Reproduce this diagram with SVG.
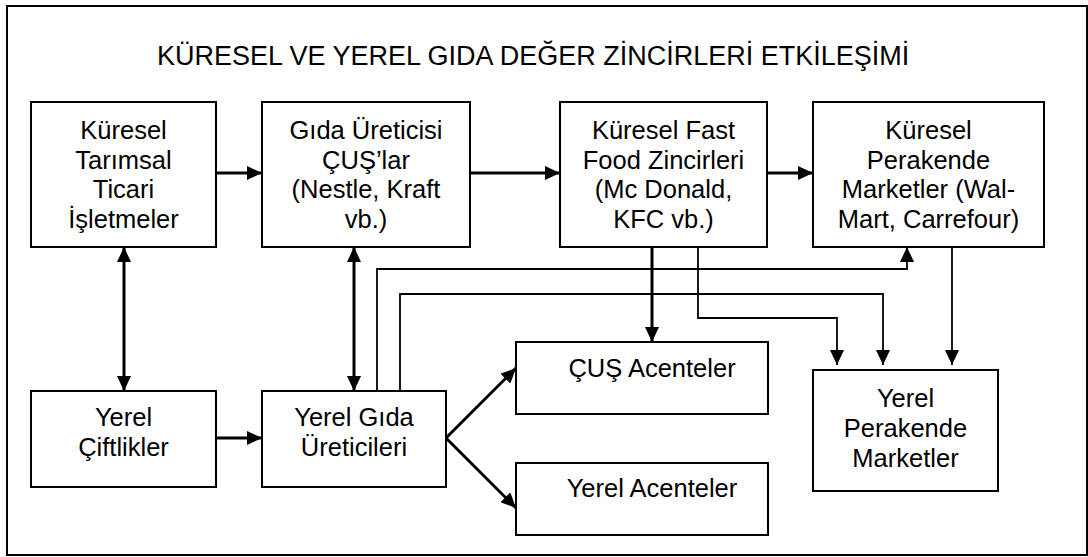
<svg xmlns="http://www.w3.org/2000/svg" width="1088" height="557" viewBox="0 0 1088 557">
<style>
  .box { fill: #ffffff; stroke: #000000; stroke-width: 2; }
  .t { font-family: "Liberation Sans", Arial, sans-serif; font-size: 25.5px; fill: #000000; text-anchor: middle; }
  .title { font-family: "Liberation Sans", Arial, sans-serif; font-size: 27px; fill: #000000; }
  .thick { fill: none; stroke: #000000; stroke-width: 3; }
  .thin { fill: none; stroke: #000000; stroke-width: 1.8; }
</style>
<defs>
  <marker id="ah" markerUnits="userSpaceOnUse" markerWidth="15" markerHeight="14" refX="15" refY="7" orient="auto-start-reverse" viewBox="0 0 15 14">
    <path d="M0,0 L15,7 L0,14 Z" fill="#000000"/>
  </marker>
</defs>
<rect x="0" y="0" width="1088" height="557" fill="#ffffff"/>
<rect x="7" y="6" width="1080" height="549" fill="none" stroke="#000000" stroke-width="2"/>
<text class="title" x="157" y="65">KÜRESEL VE YEREL GIDA DEĞER ZİNCİRLERİ ETKİLEŞİMİ</text>

<g id="connectors">
  <line class="thick" x1="216" y1="173" x2="262" y2="173" marker-end="url(#ah)"/>
  <line class="thick" x1="470" y1="173" x2="560" y2="173" marker-end="url(#ah)"/>
  <line class="thick" x1="767" y1="173" x2="813" y2="173" marker-end="url(#ah)"/>
  <line class="thick" x1="124" y1="247" x2="124" y2="391" marker-start="url(#ah)" marker-end="url(#ah)"/>
  <line class="thick" x1="354" y1="247" x2="354" y2="391" marker-start="url(#ah)" marker-end="url(#ah)"/>
  <line class="thick" x1="216" y1="438" x2="262" y2="438" marker-end="url(#ah)"/>
  <line class="thick" x1="446" y1="438" x2="516" y2="368" marker-end="url(#ah)"/>
  <line class="thick" x1="446" y1="438" x2="516" y2="508" marker-end="url(#ah)"/>
  <polyline class="thin" points="377,391 377,269 907,269 907,247" marker-end="url(#ah)"/>
  <polyline class="thin" points="400,391 400,294 883,294 883,365" marker-end="url(#ah)"/>
  <line class="thick" x1="652" y1="247" x2="652" y2="342" marker-end="url(#ah)"/>
  <polyline class="thin" points="698,247 698,318 837,318 837,365" marker-end="url(#ah)"/>
  <line class="thin" x1="952" y1="247" x2="952" y2="365" marker-end="url(#ah)"/>
</g>

<g id="kuresel-tarimsal">
  <rect class="box" x="31" y="102" width="185" height="145"/>
  <text class="t" x="123.5" y="139">Küresel</text>
  <text class="t" x="123.5" y="168.5">Tarımsal</text>
  <text class="t" x="123.5" y="198">Ticari</text>
  <text class="t" x="123.5" y="227.5">İşletmeler</text>
</g>
<g id="gida-ureticisi-cus">
  <rect class="box" x="262" y="102" width="208" height="145"/>
  <text class="t" x="366" y="139">Gıda Üreticisi</text>
  <text class="t" x="366" y="168.5">ÇUŞ’lar</text>
  <text class="t" x="366" y="198">(Nestle, Kraft</text>
  <text class="t" x="366" y="227.5">vb.)</text>
</g>
<g id="kuresel-fast-food">
  <rect class="box" x="560" y="102" width="207" height="145"/>
  <text class="t" x="663.5" y="139">Küresel Fast</text>
  <text class="t" x="663.5" y="168.5">Food Zincirleri</text>
  <text class="t" x="663.5" y="198">(Mc Donald,</text>
  <text class="t" x="663.5" y="227.5">KFC vb.)</text>
</g>
<g id="kuresel-perakende">
  <rect class="box" x="813" y="102" width="231" height="145"/>
  <text class="t" x="928.5" y="139">Küresel</text>
  <text class="t" x="928.5" y="168.5">Perakende</text>
  <text class="t" x="928.5" y="198">Marketler (Wal-</text>
  <text class="t" x="928.5" y="227.5">Mart, Carrefour)</text>
</g>
<g id="yerel-ciftlikler">
  <rect class="box" x="31" y="391" width="185" height="96"/>
  <text class="t" x="123.5" y="426">Yerel</text>
  <text class="t" x="123.5" y="456">Çiftlikler</text>
</g>
<g id="yerel-gida-ureticileri">
  <rect class="box" x="262" y="391" width="184" height="96"/>
  <text class="t" x="354" y="426">Yerel Gıda</text>
  <text class="t" x="354" y="456">Üreticileri</text>
</g>
<g id="cus-acenteler">
  <rect class="box" x="516" y="342" width="252" height="72"/>
  <text class="t" x="652" y="377">ÇUŞ Acenteler</text>
</g>
<g id="yerel-acenteler">
  <rect class="box" x="516" y="463" width="252" height="72"/>
  <text class="t" x="652" y="497">Yerel Acenteler</text>
</g>
<g id="yerel-perakende">
  <rect class="box" x="813" y="370" width="185" height="121"/>
  <text class="t" x="905.5" y="407">Yerel</text>
  <text class="t" x="905.5" y="437">Perakende</text>
  <text class="t" x="905.5" y="467">Marketler</text>
</g>
</svg>
